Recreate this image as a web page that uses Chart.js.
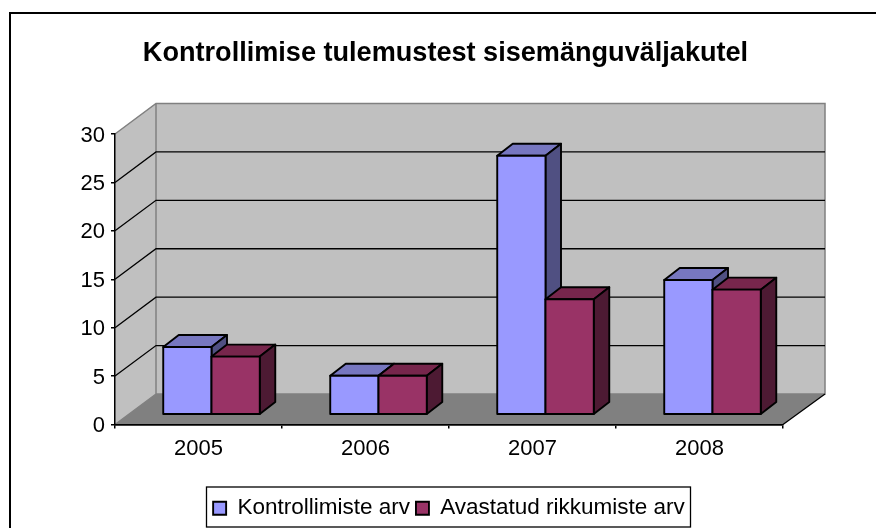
<!DOCTYPE html>
<html><head><meta charset="utf-8">
<style>html,body{margin:0;padding:0;background:#fff}#w{width:876px;height:528px;position:relative}canvas{display:block}</style>
<script src="https://cdn.jsdelivr.net/npm/chart.js@4"></script></head>
<body><div id="w"><canvas id="c" width="876" height="528"></canvas></div>
<script>
const categories=['2005','2006','2007','2008'];
const controlCounts=[7,4,27,14];
const violationCounts=[6,4,12,13];
const seriesNames=['Kontrollimiste arv','Avastatud rikkumiste arv'];
const chartTitle='Kontrollimise tulemustest sisemänguväljakutel';
const yTicks=[0,5,10,15,20,25,30];

const wall={dx:41,dy:30.5};           // room depth
const barDepth={dx:15.5,dy:12};
const barShift={dx:13,dy:10.5,scale:0.988};
const shade={
 '#9999ff':{top:'#7777c0',side:'#505082'},
 '#993366':{top:'#77264c',side:'#4d1a33'}
};
function poly(ctx,pts,fill,stroke,lw){
 ctx.beginPath();pts.forEach((p,i)=>i?ctx.lineTo(p[0],p[1]):ctx.moveTo(p[0],p[1]));ctx.closePath();
 if(fill){ctx.fillStyle=fill;ctx.fill();}
 if(stroke){ctx.strokeStyle=stroke;ctx.lineWidth=lw;ctx.lineJoin='round';ctx.stroke();}
}
let labelsNudged=false;
const frame3d={
 id:'frame3d',
 afterLayout(chart){
  chart.titleBlock.left-=3.5;chart.titleBlock.right-=3.5;
  chart.legend.top+=3;
 },
 beforeDraw(chart){
  const ctx=chart.ctx,{left:l,right:r,top:t,bottom:b}=chart.chartArea,y=chart.scales.y;
  if(!labelsNudged){labelsNudged=true;y.getLabelItems().forEach(it=>{it.options.translation[1]+=1.5;});}
  ctx.save();
  ctx.fillStyle='#fff';ctx.fillRect(0,0,chart.width,chart.height);
  ctx.strokeStyle='#000';ctx.lineWidth=2;
  ctx.beginPath();ctx.moveTo(10,chart.height+2);ctx.lineTo(10,13);ctx.lineTo(chart.width+2,13);ctx.stroke();
  const dx=wall.dx,dy=wall.dy;
  poly(ctx,[[l,t],[l+dx,t-dy],[l+dx,b-dy],[l,b]],'#c0c0c0');
  poly(ctx,[[l+dx,t-dy],[r+dx+1,t-dy],[r+dx+1,b-dy],[l+dx,b-dy]],'#c0c0c0');
  poly(ctx,[[l,b],[l+dx,b-dy],[r+dx+1,b-dy],[r,b]],'#808080');
  ctx.strokeStyle='#808080';ctx.lineWidth=1.5;
  ctx.beginPath();
  ctx.moveTo(l,t);ctx.lineTo(l+dx,t-dy);ctx.lineTo(r+dx+1,t-dy);ctx.lineTo(r+dx+1,b-dy);ctx.lineTo(l+dx,b-dy);ctx.lineTo(l+dx,t-dy);
  ctx.moveTo(l,b);ctx.lineTo(l+dx,b-dy);
  ctx.stroke();
  ctx.strokeStyle='#000';ctx.lineWidth=1.3;
  ctx.beginPath();
  yTicks.filter(v=>v>0&&v<30).forEach(v=>{
   const py=y.getPixelForValue(v);
   ctx.moveTo(l,py);ctx.lineTo(l+dx,py-dy);ctx.lineTo(r+dx+1,py-dy);
  });
  ctx.moveTo(r,b);ctx.lineTo(r+dx+1,b-dy);
  ctx.stroke();
  ctx.restore();
 },
 beforeDatasetsDraw(chart){
  const ctx=chart.ctx;
  ctx.save();
  const y=chart.scales.y,zero=y.getPixelForValue(0);
  const metas=chart.getSortedVisibleDatasetMetas();
  categories.forEach((_,i)=>{
   metas.forEach(meta=>{
    const el=meta.data[i].getProps(['x','y','base','width'],true);
    const col=chart.data.datasets[meta.index].backgroundColor;
    const x0=el.x-el.width/2+barShift.dx,x1=el.x+el.width/2+barShift.dx;
    const yb=zero-barShift.dy,yt=yb-(zero-el.y)*barShift.scale;
    const ddx=barDepth.dx,ddy=barDepth.dy;
    poly(ctx,[[x0,yt],[x0+ddx,yt-ddy],[x1+ddx,yt-ddy],[x1,yt]],shade[col].top,'#000',1.9);
    poly(ctx,[[x1,yt],[x1+ddx,yt-ddy],[x1+ddx,yb-ddy],[x1,yb]],shade[col].side,'#000',1.9);
    poly(ctx,[[x0,yt],[x1,yt],[x1,yb],[x0,yb]],col,'#000',1.9);
   });
  });
  ctx.restore();
  return false;
 },
 afterDraw(chart){
  const ctx=chart.ctx;
  ctx.save();ctx.strokeStyle='#000';ctx.lineWidth=1.3;
  ctx.strokeRect(206.5,487,484,40);
  ctx.restore();
 }
};
const fam='"Liberation Sans",Arial,sans-serif';
new Chart(document.getElementById('c'),{
 type:'bar',
 plugins:[frame3d],
 data:{labels:categories,datasets:[
  {label:seriesNames[0],data:controlCounts,backgroundColor:'#9999ff',borderColor:'#000',borderWidth:1.9},
  {label:seriesNames[1],data:violationCounts,backgroundColor:'#993366',borderColor:'#000',borderWidth:1.9}
 ]},
 options:{
  responsive:false,animation:false,
  layout:{padding:{left:0,right:93,top:0,bottom:1.5}},
  datasets:{bar:{categoryPercentage:0.578,barPercentage:1}},
  plugins:{
   tooltip:{enabled:false},
   title:{display:true,text:chartTitle,color:'#000',fullSize:false,padding:{top:37.5,bottom:64},
     font:{family:fam,size:27.1,weight:'bold'}},
   legend:{display:true,position:'bottom',fullSize:false,
     labels:{color:'#000',boxWidth:13,boxHeight:13,padding:6,font:{family:fam,size:22.5}}}
  },
  scales:{
   x:{afterFit(s){s.height=63.5;},grid:{display:true,drawOnChartArea:false,tickLength:4,lineWidth:1.5,color:'#000',offset:true},border:{color:'#000',width:1.8},
      ticks:{color:'#000',padding:7,font:{family:fam,size:22},maxRotation:0}},
   y:{min:0,max:30,afterFit(s){s.width=115;},grid:{drawOnChartArea:false,tickLength:4,lineWidth:1.5,color:'#000'},border:{color:'#000',width:1.5},
      afterBuildTicks(s){s.ticks=yTicks.map(v=>({value:v}));},
      ticks:{color:'#000',padding:6,font:{family:fam,size:22}}}
  }
 }
});
</script></body></html>
